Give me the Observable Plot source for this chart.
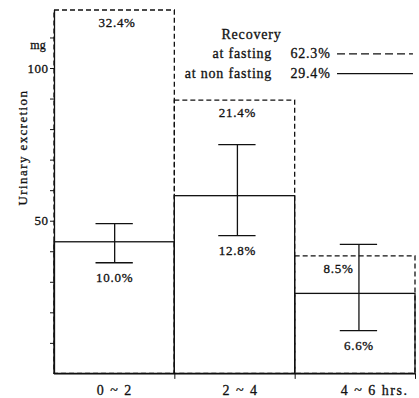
<!DOCTYPE html>
<html>
<head>
<meta charset="utf-8">
<script src="https://cdn.jsdelivr.net/npm/d3@7"></script>
<script src="https://cdn.jsdelivr.net/npm/@observablehq/plot@0.6"></script>
<style>
  html, body { margin: 0; padding: 0; background: #fff; }
  #chart svg, #chart svg text { font-family: "Liberation Serif", "DejaVu Serif", serif !important; }
  #chart svg text { stroke: #111; stroke-width: 0.3px; }
</style>
</head>
<body>
<div id="chart"></div>
<script>
// ---- data ----
const categories = ["0 ~ 2", "2 ~ 4", "4 ~ 6 hrs."];
const fasting = [119, 89.5, 38.5];          // mg, dashed bars
const nonFasting = [43.1, 58.2, 26.2];      // mg, solid bars
const errLow = [36.4, 45.3, 14.2];
const errHigh = [49.2, 75.1, 42.4];
const fastingPct = ["32.4%", "21.4%", "8.5%"];
const nonFastingPct = ["10.0%", "12.8%", "6.6%"];
const errPos = [0.5, 1.52, 2.53];           // error bar position inside each interval
const fastingLabelPos = [0.52, 1.52, 2.36];
const categoryLabelPos = [0.5, 1.545, 2.66];
const yTicks = [10, 20, 30, 40, 50, 60, 70, 80, 90, 100, 110];
const yLabelled = [50, 100];
const yTitle = "Urinary excretion";
const yUnit = "mg";
const legendTitle = "Recovery";
const legendNames = ["at fasting", "at non fasting"];
const legendPct = ["62.3%", "29.4%"];

const rows = categories.map((c, i) => ({
  c, i, x1: i, x2: i + 1,
  fasting: fasting[i], nonFasting: nonFasting[i],
  lo: errLow[i], hi: errHigh[i],
  ex: errPos[i], fx: fastingLabelPos[i], cx: categoryLabelPos[i],
  fp: fastingPct[i], np: nonFastingPct[i]
}));

const font = "Liberation Serif";
const legendRows = legendNames.map((n, k) => ({n, p: legendPct[k], k}));
const legY = k => 104.8 - 6.5 * k;
const ink = "#111";
const sw = 1.3;

const chart = Plot.plot({
  width: 419,
  height: 398,
  marginLeft: 54,
  marginRight: 4,
  marginTop: 10,
  marginBottom: 24.6,
  style: {fontFamily: font, fontSize: "13px", color: ink, background: "#fff", overflow: "visible"},
  x: {type: "linear", domain: [0, 3], axis: null},
  y: {type: "linear", domain: [0, 119], axis: null},
  marks: [
    // dashed bars (fasting)
    Plot.rect(rows, {x1: "x1", x2: "x2", y1: 0, y2: "fasting", fill: "none", stroke: ink, strokeWidth: sw, strokeDasharray: "5,3"}),
    // solid bars (non fasting)
    Plot.rect(rows, {x1: "x1", x2: "x2", y1: 0, y2: "nonFasting", fill: "none", stroke: ink, strokeWidth: sw}),
    // error bars
    Plot.ruleX(rows, {x: "ex", y1: "lo", y2: "hi", stroke: ink, strokeWidth: sw}),
    Plot.ruleY(rows, {y: "lo", x1: d => d.ex - 0.155, x2: d => d.ex + 0.155, stroke: ink, strokeWidth: sw}),
    Plot.ruleY(rows, {y: "hi", x1: d => d.ex - 0.155, x2: d => d.ex + 0.155, stroke: ink, strokeWidth: sw}),
    // axes
    Plot.ruleX([0], {stroke: ink, strokeWidth: sw}),
    Plot.ruleY([0], {stroke: ink, strokeWidth: sw}),
    Plot.axisY({ticks: yTicks, tickSize: 4, tickPadding: 2, tickFormat: d => yLabelled.includes(d) ? String(d) : "", fontSize: 13, label: null}),
    Plot.ruleX([1, 2, 3], {y1: 0, y2: -1.8, stroke: ink}),
    // category labels
    Plot.text(rows, {x: "cx", y: 0, text: "c", dy: 17, fontSize: 14, fill: ink}),
    // percentage labels
    Plot.text(rows, {x: "fx", y: "fasting", text: "fp", dy: 12, fontSize: 13, fill: ink}),
    Plot.text(rows, {x: "ex", y: "lo", text: "np", dy: 15, fontSize: 13, fill: ink}),
    // unit + axis title
    Plot.text([yUnit], {frameAnchor: "top-left", textAnchor: "middle", lineAnchor: "middle", dx: -16.5, dy: 35, fontSize: 12, fill: ink}),
    Plot.text([yTitle], {frameAnchor: "left", textAnchor: "middle", lineAnchor: "middle", rotate: -90, dx: -32, dy: -44.7, fontSize: 13, fill: ink}),
    // legend
    Plot.text([legendTitle], {x: 1.637, y: 111.1, fontSize: 14, fill: ink}),
    Plot.text(legendRows, {x: 1.809, y: d => legY(d.k), text: "n", textAnchor: "end", fontSize: 14, fill: ink}),
    Plot.text(legendRows, {x: 1.961, y: d => legY(d.k), text: "p", textAnchor: "start", fontSize: 14, fill: ink}),
    Plot.ruleY(legendRows.filter(d => d.k === 0), {y: d => legY(d.k), x1: 2.352, x2: 2.983, stroke: ink, strokeWidth: sw, strokeDasharray: "8,4"}),
    Plot.ruleY(legendRows.filter(d => d.k === 1), {y: d => legY(d.k), x1: 2.352, x2: 2.983, stroke: ink, strokeWidth: sw})
  ]
});

// letter spacing per text group (Plot's text mark has no letter-spacing option)
const spacing = new Map();
categories.forEach(t => spacing.set(t, "1.5px"));
fastingPct.concat(nonFastingPct).forEach(t => spacing.set(t, "0.7px"));
spacing.set(yTitle, "1.4px");
[legendTitle, ...legendNames, ...legendPct].forEach(t => spacing.set(t, "0.8px"));
yLabelled.forEach(t => spacing.set(String(t), "0.5px"));
d3.select(chart).selectAll("text").each(function () {
  const s = spacing.get(this.textContent.trim());
  if (s) this.style.letterSpacing = s;
});

document.getElementById("chart").appendChild(chart);
</script>
</body>
</html>
